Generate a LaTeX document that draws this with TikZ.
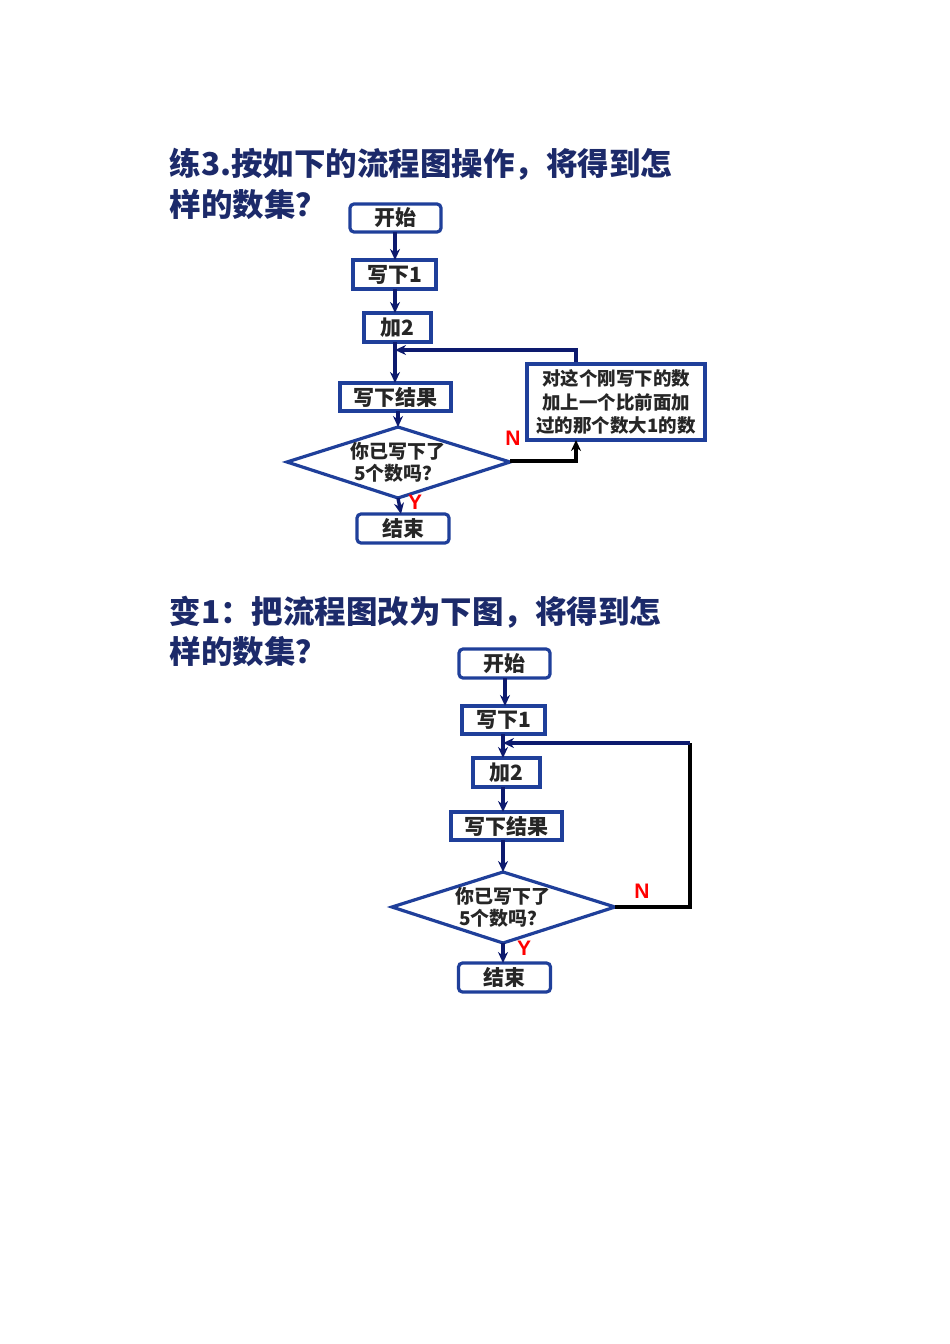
\documentclass[tikz,border=0pt]{standalone}
\usepackage{fontspec}
\newfontfamily\cjk{Noto Sans CJK SC}
\setsansfont{Liberation Sans}
\begin{document}
\begin{tikzpicture}[x=1pt,y=-1pt,
  bx/.style={draw=boxc,line width=3.2pt,minimum width=#1,inner sep=0pt,font=\cjk\fontsize{21}{22}\selectfont\bfseries,text=black!85},
  rbx/.style={bx=#1,rounded corners=4pt},
  ar/.style={draw=arc,line width=3.4pt,-{Stealth[length=11pt,width=10pt]}},
  lab/.style={text=red,font=\sffamily\bfseries\fontsize{21}{21}\selectfont},
  ttl/.style={anchor=west,text=titc,font=\cjk\bfseries\fontsize{31.5}{32}\selectfont}]
\usetikzlibrary{arrows.meta}
\definecolor{boxc}{HTML}{1F3F9A}
\definecolor{arc}{HTML}{0D1A6E}
\definecolor{titc}{HTML}{1C2A6A}
\useasboundingbox[fill=white] (0,0) rectangle (950,1344);
% titles
\node[ttl] (t1) at (166,164) {练3.按如下的流程图操作，将得到怎};
\node[ttl] (t2) at (166,205) {样的数集？};
\node[ttl] (t3) at (166,612) {变1：把流程图改为下图，将得到怎};
\node[ttl] (t4) at (166,652) {样的数集？};
% top chart
\node[rbx=91pt,minimum height=28pt] (a1) at (395.5,218) {开始};
\node[bx=83pt,minimum height=29pt] (a2) at (394.5,274.5) {写下1};
\node[bx=67pt,minimum height=29pt] (a3) at (397.5,327.5) {加2};
\node[bx=111pt,minimum height=28pt] (a4) at (395.5,397) {写下结果};
\draw[boxc,line width=3.2pt] (287,462) -- (398,427) -- (510,462) -- (398,498) -- cycle;
\node[font=\cjk\bfseries\fontsize{19}{22}\selectfont,align=center,text=black!85] (a5) at (398,462) {你已写下了\\5个数吗？};
\coordinate (a5r) at (510,461);
\coordinate (a5b) at (398,498);
\node[rbx=92pt,minimum height=29pt] (a6) at (403,528.5) {结束};
\node[bx=178pt,minimum height=76pt,align=center,font=\cjk\bfseries\fontsize{18.5}{23.5}\selectfont] (a7) at (616,402) {对这个刚写下的数\\加上一个比前面加\\过的那个数大1的数};
\draw[ar] (395,232) -- (395,260);
\draw[ar] (395,289) -- (395,313);
\draw[ar] (395,342) -- (395,383);
\draw[ar] (398,411) -- (398,427);
\draw[ar] (a5b) -- (401,514);
\coordinate (lp1) at (576,350);
\draw[ar] (a7.north -| 576,0) -- (lp1) -- (395,350);
\draw[line width=3.4pt,-{Stealth[length=11pt,width=10pt]}] (a5r) -- (576,461) -- (576,440);
\node[lab] (n1) at (513,438) {N};
\node[lab] (y1) at (415,502) {Y};
% bottom chart
\node[rbx=91pt,minimum height=29pt] (b1) at (504.5,663.5) {开始};
\node[bx=83pt,minimum height=28pt] (b2) at (503.5,720) {写下1};
\node[bx=67pt,minimum height=29pt] (b3) at (506.5,772.5) {加2};
\node[bx=111pt,minimum height=28pt] (b4) at (506.5,826) {写下结果};
\draw[boxc,line width=3.2pt] (392,907) -- (503,872) -- (615,907) -- (503,943) -- cycle;
\node[font=\cjk\bfseries\fontsize{19}{22}\selectfont,align=center,text=black!85] (b5) at (503,907) {你已写下了\\5个数吗？};
\node[rbx=92pt,minimum height=29pt] (b6) at (504.5,977.5) {结束};
\draw[ar] (505,678) -- (505,706);
\draw[ar] (503,734) -- (503,758);
\draw[ar] (503,787) -- (503,812);
\draw[ar] (503,840) -- (503,872);
\draw[ar] (503,943) -- (503,963);
\draw[line width=3.4pt] (615,907) -- (690,907) -- (690,743);
\draw[ar] (690,743) -- (503,743);
\node[lab] (n2) at (642,891) {N};
\node[lab] (y2) at (524,948) {Y};
\end{tikzpicture}
\end{document}
